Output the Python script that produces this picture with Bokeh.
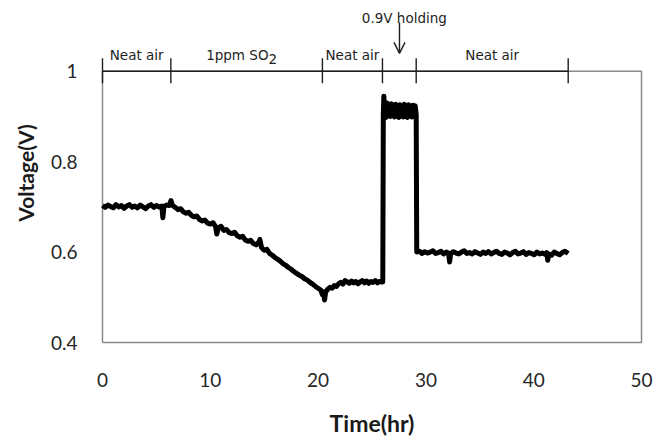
from bokeh.plotting import figure
from bokeh.models import Range1d, FixedTicker, NumeralTickFormatter, Label, Arrow, OpenHead, Title
from bokeh.embed import file_html
from bokeh.resources import INLINE

# Sensor voltage trace (time in hours, voltage in V)
time_hr = [
    0.0, 0.25, 0.5, 0.75, 1.0, 1.25, 1.5, 1.75, 2.0, 2.25, 2.5, 2.75, 3.0, 3.25, 3.5,
    3.75, 4.0, 4.25, 4.5, 4.75, 5.0, 5.25, 5.5, 5.6, 5.7, 5.95, 6.2, 6.35, 6.5,
    6.75, 7.0, 7.25, 7.5, 7.75, 8.0, 8.25, 8.5, 8.75, 9.0, 9.25, 9.5, 9.75, 10.0,
    10.25, 10.5, 10.6, 10.75, 11.0, 11.25, 11.5, 11.75, 12.0, 12.25, 12.5, 12.75,
    13.0, 13.25, 13.5, 13.75, 14.0, 14.25, 14.5, 14.6, 14.75, 15.0, 15.25, 15.5,
    15.75, 16.0, 16.25, 16.5, 16.75, 17.0, 17.25, 17.5, 17.75, 18.0, 18.25, 18.5,
    18.75, 19.0, 19.25, 19.5, 19.75, 20.0, 20.25, 20.4, 20.5, 20.6, 20.7, 20.9,
    21.1, 21.3, 21.5, 21.7, 21.9, 22.1, 22.3, 22.5, 22.7, 22.9, 23.1, 23.3, 23.5,
    23.7, 23.9, 24.1, 24.3, 24.5, 24.7, 24.9, 25.1, 25.3, 25.5, 25.7, 25.95,
    26.0, 26.05, 26.1, 26.2, 26.3, 26.4, 26.5, 26.6, 26.7, 26.8, 26.9, 27.0, 27.1,
    27.2, 27.3, 27.4, 27.5, 27.6, 27.7, 27.8, 27.9, 28.0, 28.1, 28.2, 28.3, 28.4,
    28.5, 28.6, 28.7, 28.8, 28.9, 29.0, 29.1,
    29.15, 29.4, 29.65, 29.9, 30.15, 30.4, 30.65, 30.9, 31.15, 31.4, 31.65, 31.9,
    32.1, 32.2, 32.3, 32.55, 32.8, 33.05, 33.3, 33.55, 33.8, 34.05, 34.3, 34.55,
    34.8, 35.05, 35.3, 35.55, 35.8, 36.05, 36.3, 36.55, 36.8, 37.05, 37.3, 37.55,
    37.8, 38.05, 38.3, 38.55, 38.8, 39.05, 39.3, 39.55, 39.8, 40.05, 40.3, 40.55,
    40.8, 41.05, 41.2, 41.3, 41.4, 41.65, 41.9, 42.15, 42.4, 42.65, 42.9, 43.2,
]
voltage = [
    0.703, 0.699, 0.704, 0.701, 0.698, 0.705, 0.700, 0.703, 0.697, 0.702, 0.705, 0.699, 0.702, 0.698, 0.704,
    0.700, 0.696, 0.702, 0.705, 0.699, 0.703, 0.700, 0.702, 0.676, 0.701, 0.704, 0.703, 0.714, 0.703,
    0.699, 0.694, 0.696, 0.689, 0.686, 0.688, 0.681, 0.678, 0.680, 0.672, 0.669, 0.671, 0.664, 0.662,
    0.665, 0.656, 0.640, 0.654, 0.657, 0.648, 0.650, 0.643, 0.641, 0.644, 0.636, 0.633,
    0.635, 0.627, 0.624, 0.626, 0.619, 0.616, 0.622, 0.628, 0.610, 0.604, 0.606, 0.597,
    0.593, 0.588, 0.584, 0.580, 0.574, 0.571, 0.566, 0.562, 0.557, 0.553, 0.549, 0.546,
    0.541, 0.538, 0.533, 0.529, 0.524, 0.520, 0.516, 0.506, 0.512, 0.494, 0.512, 0.518,
    0.522, 0.520, 0.526, 0.524, 0.530, 0.533, 0.529, 0.537, 0.534, 0.531, 0.536, 0.532, 0.535,
    0.530, 0.534, 0.537, 0.532, 0.536, 0.531, 0.535, 0.533, 0.537, 0.532, 0.535, 0.534,
    0.534, 0.905, 0.945, 0.905, 0.898, 0.930, 0.905, 0.925, 0.900, 0.928, 0.902, 0.925, 0.899,
    0.927, 0.901, 0.924, 0.898, 0.926, 0.902, 0.923, 0.899, 0.927, 0.900, 0.924, 0.898, 0.926,
    0.901, 0.923, 0.899, 0.925, 0.900, 0.924, 0.905,
    0.600, 0.602, 0.597, 0.601, 0.598, 0.600, 0.603, 0.597, 0.599, 0.602, 0.596, 0.600,
    0.598, 0.578, 0.597, 0.601, 0.598, 0.596, 0.600, 0.603, 0.597, 0.599, 0.596, 0.601,
    0.598, 0.595, 0.600, 0.597, 0.601, 0.596, 0.599, 0.602, 0.597, 0.595, 0.600, 0.598,
    0.594, 0.599, 0.602, 0.596, 0.598, 0.601, 0.595, 0.599, 0.597, 0.594, 0.600, 0.596,
    0.598, 0.595, 0.599, 0.582, 0.596, 0.593, 0.600, 0.597, 0.594, 0.599, 0.602, 0.597,
]

x_ticks = [0, 10, 20, 30, 40, 50]
y_ticks = [0.4, 0.6, 0.8, 1.0]

# Exposure phases along the top of the chart
phase_edges = [0, 6.34, 20.4, 25.97, 29.1, 43.2]
hold_time = 27.55

# Pixel geometry: the data frame reaches up to the canvas top so that the
# phase bar above the plot box can be drawn in data coordinates.
box_left, box_right, box_top, box_bottom = 102, 641, 71, 343
pad = 3
px_per_hr = (box_right - box_left) / (x_ticks[-1] - x_ticks[0])
px_per_volt = (box_bottom - box_top) / (y_ticks[-1] - y_ticks[0])
x_lo = x_ticks[0] - pad / px_per_hr
x_hi = x_ticks[-1] + pad / px_per_hr
y_lo = y_ticks[0] - pad / px_per_volt
y_hi = y_ticks[-1] + box_top / px_per_volt


def y_at(py):
    """Data y for a canvas row measured from the top."""
    return y_ticks[-1] + (box_top - py) / px_per_volt


p = figure(
    width=666, height=439,
    x_range=Range1d(x_lo, x_hi), y_range=Range1d(y_lo, y_hi),
    min_border_left=box_left - pad, min_border_right=666 - box_right - pad,
    min_border_top=0, min_border_bottom=439 - box_bottom - pad,
    output_backend="svg", toolbar_location=None,
)
p.background_fill_color = "white"
p.border_fill_color = "white"
p.outline_line_color = None
p.xgrid.visible = False
p.ygrid.visible = False

for ax in (p.xaxis[0], p.yaxis[0]):
    ax.axis_line_color = None
    ax.major_tick_line_color = None
    ax.minor_tick_line_color = None
    ax.major_tick_in = 0
    ax.major_tick_out = 0
    ax.major_label_text_font = "Lato"
    ax.major_label_text_font_size = "19px"
    ax.major_label_text_color = "#262626"
    ax.axis_label_text_font = "Lato"
    ax.axis_label_text_font_size = "23px"
    ax.axis_label_text_font_style = "bold"
    ax.axis_label_text_color = "#1a1a1a"

p.xaxis.ticker = FixedTicker(ticks=x_ticks)
p.yaxis.ticker = FixedTicker(ticks=y_ticks)
p.yaxis.formatter = NumeralTickFormatter(format="0.[0]")
p.xaxis.axis_label = "Time(hr)"
p.xaxis.major_label_standoff = 27
p.xaxis.axis_label_standoff = 19
p.yaxis.major_label_standoff = 22

# Vertical axis title, centred on the plot box rather than the taller frame
frame_mid = (0 + box_bottom + pad) / 2
box_mid = (box_top + box_bottom) / 2
p.add_layout(Title(text="Voltage(V)", align="center", offset=frame_mid - box_mid,
                   text_font="Lato", text_font_size="21px", text_font_style="bold",
                   text_color="#1a1a1a", standoff=20), "left")

# Plot box
p.line([x_ticks[0], x_ticks[-1], x_ticks[-1], x_ticks[0], x_ticks[0]],
       [y_ticks[0], y_ticks[0], y_ticks[-1], y_ticks[-1], y_ticks[0]],
       line_color="#8a8a8a", line_width=1.5)

p.line(time_hr, voltage, line_color="black", line_width=5, line_join="round")

# Phase bar: one line along the box top with a tick at each boundary
ink = "#1e1e1e"
p.segment(x0=[phase_edges[0]], y0=[y_ticks[-1]], x1=[phase_edges[-1]], y1=[y_ticks[-1]],
          line_color=ink, line_width=1.4)
p.segment(x0=phase_edges, y0=[y_at(58)] * len(phase_edges),
          x1=phase_edges, y1=[y_at(83)] * len(phase_edges),
          line_color=ink, line_width=1.4)

label_style = dict(text_font="DejaVu Sans", text_font_size="13.5px", text_color=ink,
                   text_baseline="alphabetic")
for a, b in [(phase_edges[0], phase_edges[1]), (phase_edges[2], phase_edges[3]),
             (phase_edges[4], phase_edges[5])]:
    p.add_layout(Label(x=(a + b) / 2, y=y_at(55), text="Neat air", text_align="center",
                       **label_style))

p.add_layout(Label(x=15.4, y=y_at(55), text="1ppm SO", text_align="right", **label_style))
p.add_layout(Label(x=15.4, y=y_at(59), text="2", text_align="left", **label_style))

p.add_layout(Label(x=28.0, y=y_at(18), text="0.9V holding", text_align="center",
                   **label_style))
p.add_layout(Arrow(end=OpenHead(size=11, line_color=ink, line_width=1.4),
                   x_start=hold_time, y_start=y_at(22), x_end=hold_time, y_end=y_at(53),
                   line_color=ink, line_width=1.4))

open("out.html", "w").write(file_html(p, INLINE))
